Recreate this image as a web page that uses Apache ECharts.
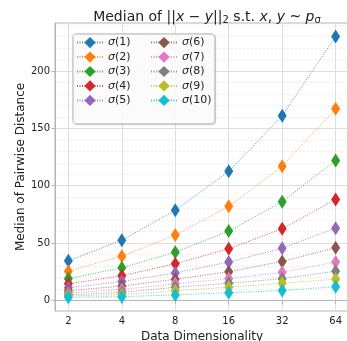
<!DOCTYPE html>
<html>
<head>
<meta charset="utf-8">
<script src="https://cdn.jsdelivr.net/npm/echarts@6/dist/echarts.min.js"></script>
<style>
  html, body { margin: 0; padding: 0; background: #fff; }
  #chart { width: 347px; height: 341px; }
</style>
</head>
<body>
<div id="chart"></div>
<script>
// data
const dims = [2, 4, 8, 16, 32, 64];
const sigma1 = [34.5, 52.5, 78.5, 112.5, 161, 230];
const sigma2 = [25.5, 38.5, 57, 82, 117, 167];
const sigma3 = [19, 28.5, 42, 60.5, 86, 122];
const sigma4 = [14.5, 21.5, 32, 45, 62.5, 88];
const sigma5 = [11, 16.5, 24, 33.5, 45.5, 63];
const sigma6 = [8.5, 12.5, 18.5, 25, 34, 46];
const sigma7 = [6.5, 9.5, 14.5, 19, 24.5, 33.5];
const sigma8 = [5, 7, 11.5, 15, 19, 25.5];
const sigma9 = [4, 5, 8.5, 11.5, 15, 18.5];
const sigma10 = [2.8, 3.3, 4.8, 6.8, 8.6, 12];
const yTicks = [0, 50, 100, 150, 200];
const yMinor = [10, 20, 30, 40, 60, 70, 80, 90, 110, 120, 130, 140, 160, 170, 180, 190, 210, 220, 230, 240];

const allSeries = [sigma1, sigma2, sigma3, sigma4, sigma5, sigma6, sigma7, sigma8, sigma9, sigma10];
const colors = ['#1f77b4', '#ff7f0e', '#2ca02c', '#d62728', '#9467bd',
                '#8c564b', '#e377c2', '#7f7f7f', '#bcbd22', '#17becf'];
const names = allSeries.map((s, i) => 'σ(' + (i + 1) + ')');
const xTicks = dims.map(d => Math.log2(d));

let chart = echarts.init(document.getElementById('chart'));

const legendText = {
  fontFamily: 'DejaVu Sans',
  fontSize: 11,
  color: '#222',
  rich: { i: { fontFamily: 'DejaVu Sans', fontStyle: 'italic', fontSize: 11, color: '#222' } }
};
function legendBox(left, data) {
  return {
    orient: 'vertical',
    left: left,
    top: 37,
    padding: 0,
    itemWidth: 26,
    itemHeight: 14,
    itemGap: 3.25,
    data: data,
    textStyle: legendText,
    formatter: n => '{i|σ}' + n.slice(1)
  };
}

chart.setOption({
  animation: false,
  backgroundColor: '#fff',
  color: colors,
  title: {
    left: 202,
    top: 4,
    textAlign: 'center',
    text: 'Median of ||{i|x} − {i|y}||{sub|2} s.t. {i|x}, {i|y} ~ {i|p}{sub|σ}',
    textStyle: {
      fontFamily: 'DejaVu Sans',
      fontSize: 14,
      fontWeight: 'normal',
      color: '#222',
      rich: {
        i: { fontFamily: 'DejaVu Sans', fontStyle: 'italic', fontSize: 14, color: '#222' },
        sub: { fontFamily: 'DejaVu Sans', fontSize: 10, color: '#222', verticalAlign: 'bottom', padding: [6, 0, 0, 0] }
      }
    }
  },
  graphic: [{
    type: 'rect',
    z: 3,
    shape: { x: 72.5, y: 33.5, width: 142, height: 90, r: 3 },
    style: {
      fill: 'rgba(255,255,255,0.9)',
      stroke: '#d0d0d0',
      lineWidth: 1,
      shadowBlur: 1,
      shadowOffsetX: 1,
      shadowOffsetY: 1,
      shadowColor: 'rgba(0,0,0,0.18)'
    }
  }],
  legend: [legendBox(76, names.slice(0, 5)), legendBox(150, names.slice(5))],
  grid: {
    left: 55,
    width: 294,
    top: 23,
    bottom: 30,
    outerBoundsMode: 'none',
    containLabel: false,
    show: true,
    borderColor: '#b5b5b5',
    borderWidth: 1
  },
  xAxis: {
    type: 'value',
    min: 0.75,
    max: 6.25,
    name: 'Data Dimensionality',
    nameLocation: 'middle',
    nameGap: 17,
    nameTextStyle: { fontFamily: 'DejaVu Sans', fontSize: 12, color: '#222' },
    axisLine: { show: true, lineStyle: { color: '#b5b5b5' } },
    axisTick: { show: true, length: 3.5, customValues: xTicks, lineStyle: { color: '#b5b5b5' } },
    axisLabel: {
      customValues: xTicks,
      margin: 5,
      fontFamily: 'DejaVu Sans',
      fontSize: 10,
      color: '#222',
      formatter: v => String(Math.round(Math.pow(2, v)))
    },
    splitLine: { show: true, lineStyle: { color: '#dedede', width: 1 } }
  },
  yAxis: [{
    type: 'value',
    min: -9.2,
    max: 241.8,
    axisLine: { show: false },
    axisTick: { show: false, customValues: yMinor },
    axisLabel: { show: false, customValues: yMinor },
    splitLine: { show: true, lineStyle: { color: '#ececec', width: 1, type: [2, 2] } }
  }, {
    type: 'value',
    min: -9.2,
    max: 241.8,
    position: 'left',
    name: 'Median of Pairwise Distance',
    nameLocation: 'middle',
    nameGap: 28,
    nameMoveOverlap: false,
    nameTextStyle: { fontFamily: 'DejaVu Sans', fontSize: 12, color: '#222' },
    axisLine: { show: true, lineStyle: { color: '#b5b5b5' } },
    axisTick: { show: true, length: 3.5, customValues: yTicks, lineStyle: { color: '#b5b5b5' } },
    axisLabel: { customValues: yTicks, margin: 5, fontFamily: 'DejaVu Sans', fontSize: 10, color: '#222' },
    splitLine: { show: true, lineStyle: { color: '#dedede', width: 1 } }
  }],
  series: allSeries.map((vals, i) => ({
    name: names[i],
    type: 'line',
    yAxisIndex: 0,
    data: vals.map((v, j) => [xTicks[j], v]),
    symbol: 'diamond',
    symbolSize: [9, 14],
    lineStyle: { width: 1, type: [1, 1.5], opacity: 0.8 },
    itemStyle: { color: colors[i] },
    emphasis: { disabled: true }
  }))
});
</script>
</body>
</html>
